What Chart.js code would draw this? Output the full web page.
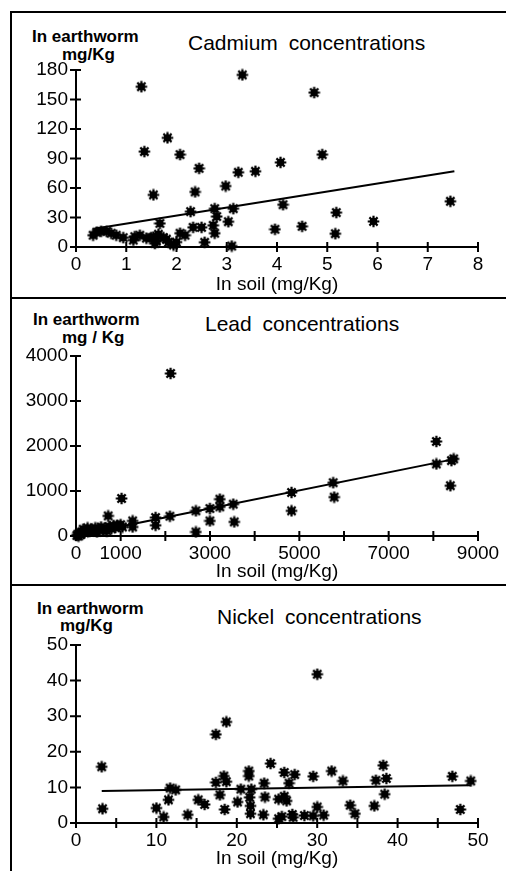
<!DOCTYPE html>
<html>
<head>
<meta charset="utf-8">
<script src="https://cdn.jsdelivr.net/npm/chart.js@4/dist/chart.umd.min.js"></script>
<style>
  html, body { margin: 0; padding: 0; background: #fff; }
  body { width: 506px; height: 871px; position: relative; overflow: hidden; font-family: "Liberation Sans", Arial, sans-serif; color: #000; }
  canvas { position: absolute; left: 0; }
  .rule { position: absolute; background: #000; }
  .txt { position: absolute; white-space: nowrap; line-height: 1; }
  .ylab { font-size: 17px; font-weight: bold; }
  .ttl { font-size: 21px; word-spacing: 5px; }
</style>
</head>
<body>
<div class="rule" style="left:10px;top:11px;width:496px;height:2px"></div>
<div class="rule" style="left:10px;top:11px;width:2px;height:860px"></div>
<div class="rule" style="left:10px;top:297px;width:496px;height:2px"></div>
<div class="rule" style="left:10px;top:584px;width:496px;height:2px"></div>

<div class="txt ylab" style="left:32px;top:28px">In earthworm</div>
<div class="txt ylab" style="left:62px;top:46px">mg/Kg</div>
<div class="txt ttl" style="left:188px;top:32px">Cadmium concentrations</div>

<div class="txt ylab" style="left:33px;top:311px">In earthworm</div>
<div class="txt ylab" style="left:62px;top:329px">mg / Kg</div>
<div class="txt ttl" style="left:205px;top:313px">Lead concentrations</div>

<div class="txt ylab" style="left:37px;top:600px">In earthworm</div>
<div class="txt ylab" style="left:60px;top:617px">mg/Kg</div>
<div class="txt ttl" style="left:217px;top:606px">Nickel concentrations</div>

<canvas id="cd" width="506" height="298" style="top:0"></canvas>
<canvas id="pb" width="506" height="287" style="top:298px"></canvas>
<canvas id="ni" width="506" height="285" style="top:586px"></canvas>

<script>
// Cadmium (mg/Kg)
const cdSoil = [0.34,0.41,0.5,0.61,0.7,0.8,0.94,1.14,1.17,1.27,1.3,1.36,1.4,1.5,1.54,1.54,1.57,1.6,1.64,1.67,1.74,1.8,1.82,1.84,1.94,2.0,2.07,2.07,2.17,2.28,2.33,2.37,2.45,2.5,2.56,2.73,2.76,2.76,2.8,2.98,3.03,3.1,3.13,3.23,3.31,3.57,3.96,4.07,4.12,4.5,4.74,4.9,5.16,5.18,5.92,7.45]
const cdWorm = [12,15,16,16,14,12,9.5,7,10.5,12,163,97,9,9.5,10,53,3.5,6,13,24,9.5,8,111,4.8,2,5,14,94,12,36,20,56,80,20,4.8,22,14,39,31,62,25.7,1,39,76,175,77,18,86,43,21,157,94,13.5,35,26,46.5]
const cdFitSoil = [0.36, 7.53]
const cdFitWorm = [18.5, 77]

// Lead (mg/Kg)
const pbSoil = [20,40,60,80,100,130,160,190,230,260,300,340,390,430,470,510,560,600,650,690,720,740,790,840,880,920,960,1000,1021,1040,1268,1268,1782,1782,2103,2118,2684,2684,2998,2998,3221,3221,3520,3542,4825,4825,5757,5780,8068,8068,8381,8404,8456]
const pbWorm = [10,40,0,60,30,90,150,70,120,180,100,140,120,180,90,150,200,130,170,110,447,210,160,230,190,240,220,250,834,200,335,201,410,238,440,3612,559,89,611,335,819,648,708,313,968,559,1184,864,2100,1601,1117,1676,1713]
const pbFitSoil = [50, 8550]
const pbFitWorm = [20, 1725]

// Nickel (mg/Kg)
const niSoil = [3.2,3.3,10.0,10.9,11.5,11.7,12.4,13.9,15.2,16.0,17.4,17.4,17.9,18.4,18.5,18.7,18.7,20.1,20.5,21.5,21.5,21.6,21.7,21.8,21.7,23.3,23.4,23.5,24.2,25.2,25.2,25.6,25.9,25.9,26.2,26.5,26.9,27.0,27.2,28.4,29.5,29.5,30.0,30.0,30.8,31.8,33.2,34.1,34.7,37.1,37.3,38.2,38.4,38.6,46.8,47.8,49.1]
const niWorm = [15.8,4.0,4.2,1.7,6.5,9.8,9.3,2.3,6.5,5.2,11.4,24.9,7.9,13.2,3.8,11.6,28.4,5.9,9.5,14.6,13.2,7.2,4.8,9.5,2.6,2.3,11.2,7.3,16.7,6.7,1.2,1.8,14.2,7.5,6.2,11.2,2.4,1.6,13.6,2.1,13.1,2.0,4.5,41.8,2.2,14.6,11.8,5.0,2.6,4.8,12.0,16.2,8.1,12.5,13.1,3.8,11.8]
const niFitSoil = [3.2, 49.1]
const niFitWorm = [9.0, 10.6]

const FONT = '"Liberation Sans", Arial, sans-serif'

// blotchy asterisk marker
function makeStar() {
  const c = document.createElement('canvas')
  c.width = c.height = 13
  const g = c.getContext('2d')
  g.fillStyle = g.strokeStyle = '#000'
  g.beginPath()
  g.arc(6.5, 6.5, 3.8, 0, 2 * Math.PI)
  g.fill()
  g.lineWidth = 2.2
  g.beginPath()
  for (let k = 0; k < 8; k++) {
    const a = k * Math.PI / 4
    g.moveTo(6.5, 6.5)
    g.lineTo(6.5 + 5.8 * Math.cos(a), 6.5 + 5.8 * Math.sin(a))
  }
  g.stroke()
  return c
}
const star = makeStar()

// tick marks that cross the axis lines
const crossTicks = {
  id: 'crossTicks',
  afterDraw(chart) {
    const { ctx, scales: { x, y } } = chart
    ctx.save()
    ctx.strokeStyle = '#000'
    ctx.lineWidth = 2
    ctx.beginPath()
    x.ticks.forEach(t => {
      const px = x.getPixelForValue(t.value)
      ctx.moveTo(px, y.bottom - 5)
      ctx.lineTo(px, y.bottom + 5)
    })
    y.ticks.forEach(t => {
      const py = y.getPixelForValue(t.value)
      ctx.moveTo(x.left - 6, py)
      ctx.lineTo(x.left + 5, py)
    })
    ctx.stroke()
    ctx.restore()
  }
}

const zip = (a, b) => a.map((v, i) => ({ x: v, y: b[i] }))

function makeChart(id, soil, worm, fitSoil, fitWorm, xr, yr, topPad, xHeight, titlePad, xLabel) {
  return new Chart(document.getElementById(id), {
    type: 'scatter',
    data: {
      datasets: [
        {
          data: zip(soil, worm),
          pointStyle: star,
          pointRadius: 6,
          clip: false
        },
        {
          type: 'line',
          data: zip(fitSoil, fitWorm),
          borderColor: '#000',
          borderWidth: 2,
          pointRadius: 0,
          fill: false
        }
      ]
    },
    options: {
      responsive: false,
      animation: false,
      layout: { padding: { left: 0, right: 28, top: topPad, bottom: 0 } },
      plugins: { legend: { display: false }, tooltip: { enabled: false } },
      scales: {
        x: {
          type: 'linear',
          min: xr[0], max: xr[1],
          grid: { display: false, drawTicks: false },
          border: { display: true, color: '#000', width: 2 },
          afterFit: s => { s.height = xHeight },
          ticks: {
            stepSize: xr[2],
            padding: 6,
            color: '#000',
            font: { family: FONT, size: 19 },
            maxRotation: 0,
            autoSkip: false,
            callback: xLabel
          },
          title: {
            display: true,
            text: 'In soil (mg/Kg)',
            color: '#000',
            font: { family: FONT, size: 19 },
            padding: { top: 0, bottom: titlePad }
          }
        },
        y: {
          type: 'linear',
          min: yr[0], max: yr[1],
          grid: { display: false, drawTicks: false },
          border: { display: true, color: '#000', width: 2 },
          afterFit: s => { s.width = 76 },
          ticks: {
            stepSize: yr[2],
            padding: 8,
            color: '#000',
            font: { family: FONT, size: 19 },
            autoSkip: false,
            callback: v => String(v)
          }
        }
      }
    },
    plugins: [crossTicks]
  })
}

makeChart('cd', cdSoil, cdWorm, cdFitSoil, cdFitWorm, [0, 8, 1], [0, 180, 30], 70, 51, 2, v => String(v))
makeChart('pb', pbSoil, pbWorm, pbFitSoil, pbFitWorm, [0, 9000, 1000], [0, 4000, 1000], 58, 49, 2,
  v => (v === 0 || (v / 1000) % 2 === 1) ? String(v) : '')
makeChart('ni', niSoil, niWorm, niFitSoil, niFitWorm, [0, 50, 5], [0, 50, 10], 59, 48, 1,
  v => (v % 10 === 0) ? String(v) : '')
</script>
</body>
</html>
